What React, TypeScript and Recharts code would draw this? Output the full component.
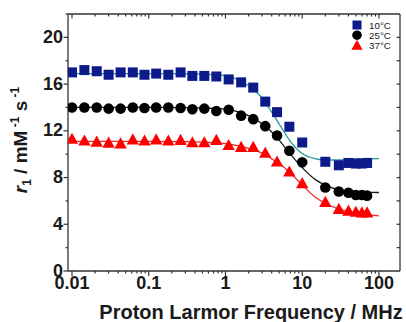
import { ComposedChart, Scatter, Line, XAxis, YAxis, Legend } from "recharts";

// measured relaxivities vs proton Larmor frequency (MHz)
const freq = [0.01, 0.0145, 0.021, 0.03, 0.043, 0.062, 0.088, 0.125, 0.18, 0.26, 0.37, 0.53, 0.76, 1.1, 1.6, 2.3, 3.3, 4.7, 6.8, 10, 20, 30, 40, 50, 60, 70];
const r10 = [17.0, 17.2, 17.1, 16.8, 17.0, 17.0, 16.8, 16.9, 16.8, 17.0, 16.7, 16.7, 16.65, 16.4, 16.15, 15.7, 14.5, 13.6, 12.35, 11.0, 9.35, 9.05, 9.25, 9.2, 9.2, 9.25];
const r25 = [14.0, 14.0, 14.0, 13.9, 13.9, 14.0, 13.95, 14.0, 14.0, 13.95, 13.85, 13.9, 13.7, 13.8, 13.3, 13.0, 12.4, 11.6, 10.3, 9.3, 7.15, 6.8, 6.7, 6.5, 6.5, 6.45];
const r37 = [11.3, 11.15, 11.05, 10.97, 10.9, 11.25, 11.15, 11.25, 11.15, 11.2, 11.0, 11.0, 11.2, 10.77, 10.6, 10.6, 10.1, 9.35, 8.5, 7.5, 5.9, 5.3, 5.15, 5.05, 5.0, 5.0];

// fitted curves
const fitFreq = [0.01, 0.03, 0.1, 0.3, 0.6, 1, 1.5, 2, 3, 4, 5, 7, 10, 15, 20, 30, 50, 100];
const fit10 = [16.9, 16.9, 16.9, 16.88, 16.82, 16.7, 16.35, 15.85, 14.8, 13.6, 12.6, 11.1, 10.05, 9.6, 9.5, 9.5, 9.58, 9.62];
const fit25 = [14.0, 14.0, 14.0, 13.98, 13.93, 13.85, 13.6, 13.3, 12.6, 11.9, 11.2, 10.0, 8.85, 7.8, 7.35, 6.95, 6.8, 6.72];
const fit37 = [11.1, 11.1, 11.1, 11.08, 11.0, 10.9, 10.7, 10.5, 10.1, 9.6, 9.2, 8.4, 7.35, 6.3, 5.8, 5.3, 4.95, 4.72];

const xMajor = [0.01, 0.1, 1, 10, 100];
const xMinor = [0.01, 0.1, 1, 10].flatMap((d) => [2, 3, 4, 5, 6, 7, 8, 9].map((k) => +(d * k).toPrecision(2)));
const yMajor = [0, 4, 8, 12, 16, 20];
const yMinor = [2, 6, 10, 14, 18, 22];
const yRight = [2, 4, 6, 8, 10, 12, 14, 16, 18, 20];

const series = [
  { name: "10°C", color: "#0c1a8a", fit: "#23999b", shape: "square", values: r10, fitValues: fit10 },
  { name: "25°C", color: "#000000", fit: "#1a1a1a", shape: "circle", values: r25, fitValues: fit25 },
  { name: "37°C", color: "#ff0000", fit: "#f02828", shape: "triangle", values: r37, fitValues: fit37 },
];

const AXIS = "#333";
const FONT = "'Liberation Sans', Arial, sans-serif";
const TEXT = "#1a1a1a";

function marker(shape: string, cx: number, cy: number, color: string, s = 1) {
  if (shape === "square") return <rect x={cx - 5 * s} y={cy - 5 * s} width={10 * s} height={10 * s} fill={color} />;
  if (shape === "circle") return <circle cx={cx} cy={cy} r={5.3 * s} fill={color} />;
  return <polygon points={`${cx},${cy - 6.3 * s} ${cx - 6.2 * s},${cy + 4.8 * s} ${cx + 6.2 * s},${cy + 4.8 * s}`} fill={color} />;
}

const BottomTick = ({ x, y, payload }: any) => {
  const major = xMajor.includes(payload.value);
  return (
    <g>
      <line x1={x} x2={x} y1={y} y2={y + (major ? 5 : 2.5)} stroke={AXIS} strokeWidth={1.2} />
      {major && (
        <text x={x} y={y + 17.5} textAnchor="middle" fontSize={18} fontWeight="bold" fill={TEXT} fontFamily={FONT}>
          {String(payload.value)}
        </text>
      )}
    </g>
  );
};

const TopTick = ({ x, y, payload }: any) => {
  const major = xMajor.includes(payload.value);
  return <line x1={x} x2={x} y1={y} y2={y + (major ? 4.5 : 2.5)} stroke={AXIS} strokeWidth={1.2} />;
};

const LeftTick = ({ x, y, payload }: any) => {
  const major = yMajor.includes(payload.value);
  return (
    <g>
      <line x1={x - (major ? 4.5 : 2.5)} x2={x} y1={y} y2={y} stroke={AXIS} strokeWidth={1.2} />
      {major && (
        <text x={x - 5} y={y - 0.8} dy="0.36em" textAnchor="end" fontSize={18} fontWeight="bold" fill={TEXT} fontFamily={FONT}>
          {payload.value}
        </text>
      )}
    </g>
  );
};

const RightTick = ({ x, y }: any) => <line x1={x - 3.5} x2={x} y1={y} y2={y} stroke={AXIS} strokeWidth={1.2} />;

const LegendBox = () => (
  <svg width={56} height={34} style={{ display: "block" }}>
    {series.map((s, i) => (
      <g key={s.name}>
        {marker(s.shape, 6, 5 + i * 10.2, s.color, 0.9)}
        <text x={18} y={5 + i * 10.2} dy="0.36em" fontSize={9.8} fill={TEXT} fontFamily={FONT}>
          {s.name}
        </text>
      </g>
    ))}
  </svg>
);

const XTitle = () => (
  <text x={251} y={319} textAnchor="middle" fontSize={20} fontWeight="bold" fill={TEXT} fontFamily={FONT}>
    Proton Larmor Frequency / MHz
  </text>
);

const YTitle = () => (
  <text transform="translate(27,140) rotate(-90)" textAnchor="middle" fontSize={19} fontWeight="bold" fill={TEXT} fontFamily={FONT}>
    <tspan fontStyle="italic">r</tspan>
    <tspan fontSize={12} dy={4}>1</tspan>
    <tspan dy={-4}> / mM</tspan>
    <tspan fontSize={12} dy={-8}> -1</tspan>
    <tspan dy={8}> s</tspan>
    <tspan fontSize={12} dy={-8}> -1</tspan>
  </text>
);

export default function App() {
  const xDomain = [0.00887, 188];
  return (
    <div style={{ position: "absolute", left: 0, top: 0, background: "#fff" }}>
      <ComposedChart width={406} height={322} margin={{ top: 14, right: 6, left: 0, bottom: 0 }}>
        <XAxis
          xAxisId="b"
          dataKey="x"
          type="number"
          scale="log"
          domain={xDomain}
          allowDataOverflow
          ticks={[...xMajor, ...xMinor]}
          interval={0}
          height={51}
          tickSize={0}
          tickMargin={0}
          tickLine={false}
          tick={<BottomTick />}
          axisLine={{ stroke: AXIS, strokeWidth: 1.3 }}
          label={{ content: () => <XTitle /> }}
        />
        <XAxis
          xAxisId="t"
          orientation="top"
          mirror
          dataKey="x"
          type="number"
          scale="log"
          domain={xDomain}
          allowDataOverflow
          ticks={[...xMajor, ...xMinor]}
          interval={0}
          tickSize={0}
          tickMargin={0}
          tickLine={false}
          tick={<TopTick />}
          axisLine={{ stroke: AXIS, strokeWidth: 1.3 }}
        />
        <YAxis
          yAxisId="l"
          dataKey="y"
          type="number"
          domain={[0, 22]}
          allowDataOverflow
          ticks={[...yMajor, ...yMinor]}
          interval={0}
          width={68}
          tickSize={0}
          tickMargin={0}
          tickLine={false}
          tick={<LeftTick />}
          axisLine={{ stroke: AXIS, strokeWidth: 1.3 }}
          label={{ content: () => <YTitle /> }}
        />
        <YAxis
          yAxisId="r"
          orientation="right"
          mirror
          dataKey="y"
          type="number"
          domain={[0, 22]}
          allowDataOverflow
          ticks={yRight}
          interval={0}
          tickSize={0}
          tickMargin={0}
          tickLine={false}
          tick={<RightTick />}
          axisLine={{ stroke: AXIS, strokeWidth: 1.3 }}
        />
        <Legend
          layout="vertical"
          align="center"
          verticalAlign="middle"
          wrapperStyle={{ left: 351, top: 20, width: 56, height: 34 }}
          content={() => <LegendBox />}
        />
        {series.map((s) => (
          <Scatter
            key={s.name}
            name={s.name}
            xAxisId="b"
            yAxisId="l"
            dataKey="y"
            data={freq.map((x, i) => ({ x, y: s.values[i] }))}
            fill={s.color}
            isAnimationActive={false}
            shape={(p: any) => marker(s.shape, p.cx, p.cy, s.color)}
          />
        ))}
        {series.map((s) => (
          <Line
            key={s.name + "fit"}
            xAxisId="b"
            yAxisId="l"
            dataKey="y"
            type="monotone"
            data={fitFreq.map((x, i) => ({ x, y: s.fitValues[i] }))}
            stroke={s.fit}
            strokeWidth={1.3}
            dot={false}
            activeDot={false}
            legendType="none"
            isAnimationActive={false}
          />
        ))}
      </ComposedChart>
    </div>
  );
}
